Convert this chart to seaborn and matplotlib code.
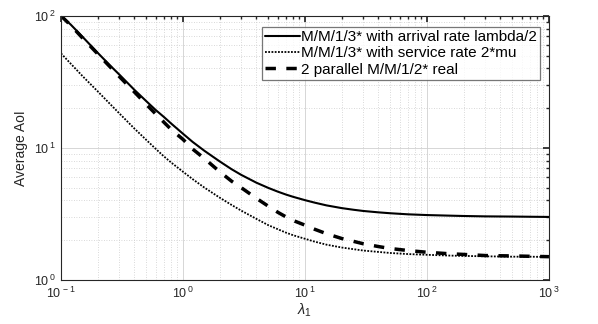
import numpy as np
import pandas as pd
import matplotlib
matplotlib.use("Agg")
import matplotlib.pyplot as plt
import matplotlib.ticker as mticker
import seaborn as sns

# ==================================================
# DATA
# ==================================================

lam = [0.1, 0.12, 0.15, 0.2, 0.25, 0.3, 0.4, 0.5, 0.6, 0.7, 0.8,
       1, 1.2, 1.5, 2, 2.5, 3, 4, 5, 6, 7, 8,
       10, 12, 15, 20, 25, 30, 40, 50, 70,
       100, 150, 200, 300, 500, 700, 1000]

aoi_arrival = [100, 86, 69.5, 52.5, 42.5, 36, 27.5, 22.6, 19.3, 17.1, 15.3,
               12.8, 11.1, 9.5, 7.9, 6.9, 6.25, 5.45, 4.98, 4.66, 4.43, 4.26,
               4.02, 3.85, 3.67, 3.5, 3.4, 3.33, 3.25, 3.2, 3.14,
               3.1, 3.07, 3.05, 3.03, 3.02, 3.01, 3.0]

aoi_service = [52, 43.5, 35, 26.8, 21.7, 18.3, 14.0, 11.5, 9.8, 8.6, 7.75,
               6.6, 5.8, 5.0, 4.2, 3.7, 3.35, 2.9, 2.6, 2.42, 2.28, 2.18,
               2.05, 1.95, 1.85, 1.76, 1.71, 1.67, 1.63, 1.60, 1.57,
               1.55, 1.53, 1.52, 1.51, 1.50, 1.50, 1.49]

aoi_parallel = [100, 85, 68, 51.5, 41.5, 34.8, 26.5, 21.4, 18.0, 15.6, 13.8,
                11.6, 9.8, 8.3, 6.6, 5.6, 5.0, 4.15, 3.62, 3.25, 3.0, 2.82,
                2.6, 2.42, 2.24, 2.06, 1.96, 1.88, 1.79, 1.73, 1.67,
                1.62, 1.58, 1.56, 1.53, 1.52, 1.51, 1.50]

labels = [
    "M/M/1/3* with arrival rate lambda/2",
    "M/M/1/3* with service rate 2*mu",
    "2 parallel M/M/1/2* real",
]

df = pd.DataFrame({
    "lam": lam * 3,
    "aoi": aoi_arrival + aoi_service + aoi_parallel,
    "series": [labels[0]] * len(lam) + [labels[1]] * len(lam) + [labels[2]] * len(lam),
})

# ==================================================
# STYLE
# ==================================================

sns.set_theme(style="white")
plt.rcParams["font.family"] = ["Liberation Sans", "DejaVu Sans"]
plt.rcParams["mathtext.fontset"] = "custom"
plt.rcParams["mathtext.rm"] = "Liberation Sans"
plt.rcParams["mathtext.it"] = "Liberation Sans:italic"
plt.rcParams["mathtext.sf"] = "Liberation Sans"

axcol = "#262626"

fig = plt.figure(figsize=(5.98, 3.24), dpi=100)
ax = fig.add_axes([0.102, 0.136, 0.816, 0.815])

styles = {
    labels[0]: dict(linestyle="-", linewidth=1.5),
    labels[1]: dict(linestyle=(0, (1, 0.8)), linewidth=1.3),
    labels[2]: dict(linestyle=(0, (3, 3)), linewidth=2.5),
}

for name in labels:
    sns.lineplot(
        data=df[df["series"] == name],
        x="lam",
        y="aoi",
        color="black",
        label=name,
        ax=ax,
        **styles[name]
    )

ax.set_xscale("log")
ax.set_yscale("log")
ax.set_xlim(0.1, 1000)
ax.set_ylim(1, 100)


def matlab_pow(v, pos):
    e = int(round(np.log10(v)))
    return r"$\mathregular{10^{\,%d}}$" % e


ax.xaxis.set_major_formatter(mticker.FuncFormatter(matlab_pow))
ax.yaxis.set_major_formatter(mticker.FuncFormatter(matlab_pow))

# grid like matlab
ax.grid(True, which="major", color="#d0d0d0", linewidth=0.6, linestyle="-")
ax.grid(True, which="minor", color="#cccccc", linewidth=0.6, linestyle=(0, (1, 2)))
ax.set_axisbelow(True)

for sp in ax.spines.values():
    sp.set_color(axcol)
    sp.set_linewidth(0.8)

ax.tick_params(which="both", direction="in", top=True, right=True,
               colors=axcol, labelsize=9)
ax.tick_params(which="major", length=4, pad=4)
ax.tick_params(which="minor", length=2.5)

ax.set_xlabel(r"$\lambda_1$", fontsize=10.5, color=axcol, labelpad=1)
ax.set_ylabel("Average AoI", fontsize=10, color=axcol, labelpad=4)

leg = ax.legend(
    loc="upper right",
    bbox_to_anchor=(0.982, 0.958),
    fontsize=11,
    frameon=True,
    fancybox=False,
    handlelength=2.3,
    handletextpad=0.1,
    borderpad=0.2,
    labelspacing=0.15,
    borderaxespad=0,
)
leg.get_frame().set_edgecolor("#555555")
leg.get_frame().set_linewidth(0.9)
for t in leg.get_texts():
    t.set_color("black")

fig.savefig("out.png", dpi=100)
